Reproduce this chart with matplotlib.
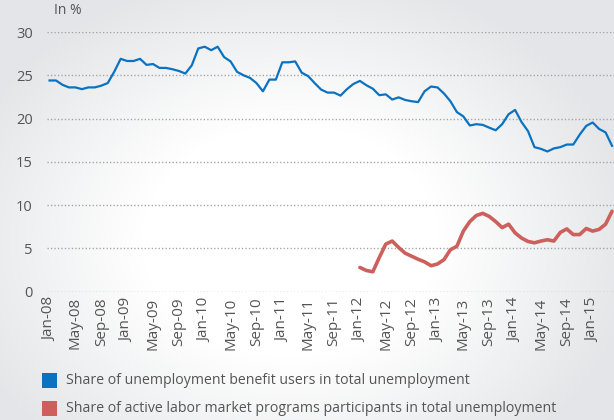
import numpy as np
import matplotlib.pyplot as plt
from matplotlib.patches import Rectangle

plt.rcParams['font.family'] = ['Open Sans', 'DejaVu Sans']

# monthly data, Jan-08 .. Apr-15
tick_labels = ["Jan-08", "May-08", "Sep-08", "Jan-09", "May-09", "Sep-09",
               "Jan-10", "May-10", "Sep-10", "Jan-11", "May-11", "Sep-11",
               "Jan-12", "May-12", "Sep-12", "Jan-13", "May-13", "Sep-13",
               "Jan-14", "May-14", "Sep-14", "Jan-15"]

benefit_users = [24.4, 24.4, 23.9, 23.6, 23.6, 23.4, 23.6, 23.6, 23.8, 24.1,
                 25.4, 26.9, 26.65, 26.65, 26.9, 26.2, 26.3, 25.85, 25.85, 25.7,
                 25.5, 25.2, 26.15, 28.1, 28.3, 27.9, 28.3, 27.1, 26.6, 25.4,
                 25.0, 24.7, 24.1, 23.15, 24.5, 24.5, 26.5, 26.5, 26.6, 25.3,
                 24.9, 24.1, 23.35, 23.0, 23.0, 22.65, 23.4, 24.0, 24.35, 23.85,
                 23.45, 22.7, 22.8, 22.2, 22.45, 22.15, 22.0, 21.9, 23.15, 23.7,
                 23.6, 22.9, 22.0, 20.75, 20.25, 19.2, 19.35, 19.27, 18.95, 18.65,
                 19.35, 20.5, 21.0, 19.6, 18.55, 16.7, 16.5, 16.2, 16.55, 16.7,
                 17.0, 17.0, 18.15, 19.15, 19.55, 18.8, 18.4, 16.85]

# starts in Jan-12
almp_start = 48
almp_participants = [2.8, 2.45, 2.3, 3.95, 5.5, 5.85, 5.1, 4.45, 4.1, 3.75,
                     3.45, 3.0, 3.2, 3.7, 4.85, 5.25, 7.0, 8.1, 8.8, 9.05,
                     8.7, 8.1, 7.4, 7.8, 6.8, 6.2, 5.8, 5.65, 5.85, 6.0,
                     5.85, 6.85, 7.25, 6.6, 6.6, 7.3, 7.0, 7.2, 7.8, 9.3]

blue = '#0a72c0'
red = '#cd5f5c'
txt = '#555555'

W, H = 614, 420
fig = plt.figure(figsize=(W / 100, H / 100), dpi=100)

# soft gray-white background
bg = fig.add_axes([0, 0, 1, 1], zorder=-10)
yy, xx = np.mgrid[0:H, 0:W]
r = np.sqrt(((xx - 290) / 330.0) ** 2 + ((yy - 240) / 260.0) ** 2)
t = np.clip((r - 0.45) / 0.6, 0, 1)
edge = np.array([0.895, 0.9, 0.91])
img = 1 - t[..., None] * (1 - edge)
bg.imshow(img, extent=[0, W, H, 0], aspect='auto')
bg.axis('off')

ax = fig.add_axes([46.7 / W, 1 - 291.7 / H, 1 - 46.7 / W, (291.7 - 32) / H])
ax.patch.set_alpha(0)

ax.plot(range(len(benefit_users)), benefit_users, color=blue, lw=1.6,
        solid_joinstyle='round', zorder=3)
ax.plot(range(almp_start, almp_start + len(almp_participants)), almp_participants,
        color=red, lw=2.6, solid_joinstyle='round', solid_capstyle='round', zorder=3)

ax.set_xlim(-0.44, 87.3)
ax.set_ylim(0, 30)
ax.set_yticks(range(0, 31, 5))
ax.yaxis.grid(True, linestyle=(0, (0.9, 1.6)), color='#a0a0a0', lw=1)
ax.set_xticks(range(0, 4 * len(tick_labels), 4))
ax.set_xticklabels(tick_labels, rotation=90)
for s in ax.spines.values():
    s.set_visible(False)
ax.tick_params(axis='y', length=0, pad=10, labelsize=10.5, labelcolor=txt)
ax.tick_params(axis='x', length=0, pad=4, labelsize=11, labelcolor=txt)

fig.text(54 / W, 1 - 10 / H, "In %", ha='left', va='center', fontsize=10, color=txt)

# legend
items = [(blue, "Share of unemployment benefit users in total unemployment", 380),
         (red, "Share of active labor market programs participants in total unemployment", 408)]
for col, label, yc in items:
    fig.add_artist(Rectangle((42 / W, 1 - (yc + 7.5) / H), 15 / W, 15 / H,
                             transform=fig.transFigure, color=col, lw=0))
    fig.text(66.5 / W, 1 - yc / H, label, ha='left', va='center', fontsize=10.2, color=txt)

fig.savefig('out.png', dpi=100)
